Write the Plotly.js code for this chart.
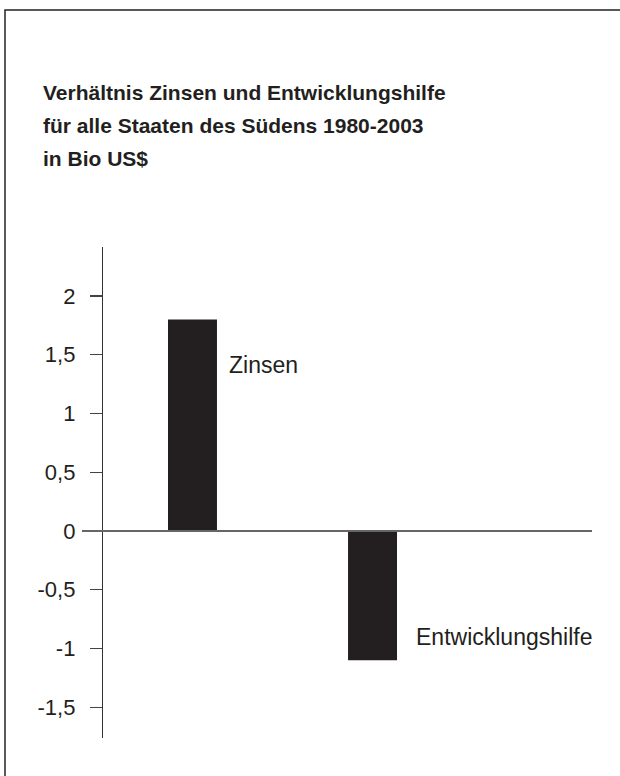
<!DOCTYPE html>
<html>
<head>
<meta charset="utf-8">
<script src="https://cdn.plot.ly/plotly-3.0.1.min.js"></script>
<style>html,body{margin:0;padding:0;background:#fff}#chart{width:620px;height:776px}</style>
</head>
<body>
<div id="chart"></div>
<script>
// ---- data ----
var categories = ['Zinsen', 'Entwicklungshilfe'];
var values = [1.8, -1.1];
var tickVals = [-1.5, -1, -0.5, 0, 0.5, 1, 1.5, 2];
var tickLabels = ['-1,5', '-1', '-0,5', '0', '0,5', '1', '1,5', '2'];
var titleLines = ['Verhältnis Zinsen und Entwicklungshilfe', 'für alle Staaten des Südens 1980-2003', 'in Bio US$'];

// ---- layout geometry (pixels) ----
var W = 620, H = 776;
var mL = 103, mR = 28, mT = 247, mB = 38;
var plotW = W - mL - mR, plotH = H - mT - mB;
function px(x) { return (x - mL) / plotW; }
function py(y) { return (H - mB - y) / plotH; }

var textColor = '#231f20';
var font = 'Liberation Sans, Arial, Helvetica, sans-serif';

var trace = {
  type: 'bar',
  x: categories,
  y: values,
  width: 0.272,
  marker: { color: '#231f20', line: { width: 0 } },
  hoverinfo: 'skip'
};

var annotations = [];
var titleCenters = [93, 125.5, 158.5];
titleLines.forEach(function (t, i) {
  annotations.push({
    xref: 'paper', yref: 'paper', x: px(41), y: py(titleCenters[i]),
    xanchor: 'left', yanchor: 'middle', showarrow: false, text: '<b>' + t + '</b>',
    font: { family: font, size: 21, color: textColor }
  });
});
annotations.push({
  x: categories[0], y: values[0], xref: 'x', yref: 'y',
  xanchor: 'left', yanchor: 'middle', xshift: 35, yshift: -46,
  showarrow: false, text: categories[0],
  font: { family: font, size: 23, color: textColor }
});
annotations.push({
  x: categories[1], y: values[1], xref: 'x', yref: 'y',
  xanchor: 'left', yanchor: 'middle', xshift: 41, yshift: 23,
  showarrow: false, text: categories[1],
  font: { family: font, size: 23, color: textColor }
});

var layout = {
  width: W, height: H,
  margin: { l: mL, r: mR, t: mT, b: mB, pad: 0 },
  paper_bgcolor: '#ffffff', plot_bgcolor: '#ffffff',
  showlegend: false,
  separators: ',.',
  font: { family: font, color: textColor },
  xaxis: {
    type: 'category', range: [-0.497, 2.219], visible: false, fixedrange: true
  },
  yaxis: {
    range: [-1.762, 2.417],
    tickmode: 'array', tickvals: tickVals, ticktext: tickLabels,
    ticks: 'outside', ticklen: 12, tickwidth: 1.2, tickcolor: '#444',
    showline: true, linecolor: '#333', linewidth: 1.2,
    showgrid: false, zeroline: false,
    ticklabelstandoff: 10,
    tickfont: { family: font, size: 22, color: textColor },
    fixedrange: true
  },
  shapes: [
    // zero line
    { type: 'line', xref: 'paper', yref: 'y', x0: px(82), x1: px(592), y0: 0, y1: 0,
      line: { color: '#666', width: 2 }, layer: 'above' },
    // frame
    { type: 'rect', xref: 'paper', yref: 'paper', x0: px(5), x1: px(640), y0: py(10), y1: py(800),
      line: { color: '#222', width: 1.5 }, fillcolor: 'rgba(0,0,0,0)' }
  ],
  annotations: annotations
};

Plotly.newPlot('chart', [trace], layout, { displayModeBar: false, staticPlot: true });
</script>
</body>
</html>
